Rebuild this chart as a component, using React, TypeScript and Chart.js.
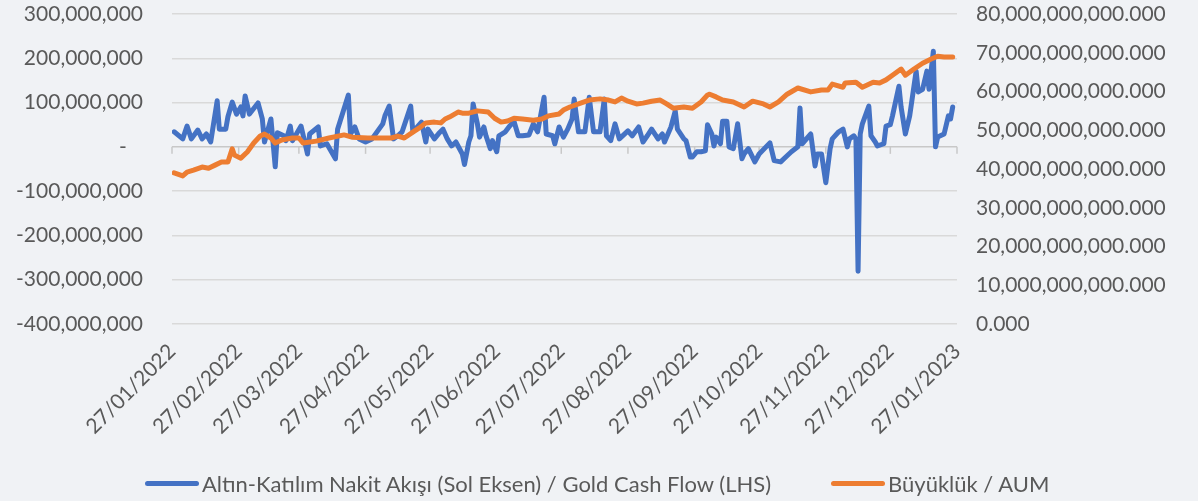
import { useEffect, useRef } from 'react';
import { Chart, registerables } from 'chart.js';

Chart.register(...registerables);

// X-axis tick labels (monthly, dd/mm/yyyy)
const tickLabels = [
  '27/01/2022', '27/02/2022', '27/03/2022', '27/04/2022', '27/05/2022', '27/06/2022',
  '27/07/2022', '27/08/2022', '27/09/2022', '27/10/2022', '27/11/2022', '27/12/2022', '27/01/2023',
];

// Series names and colours
const flowName = 'Altın-Katılım Nakit Akışı (Sol Eksen) / Gold Cash Flow (LHS)';
const aumName = 'Büyüklük / AUM';
const flowColor = '#4472C4';
const aumColor = '#ED7D31';

// Gold cash flow: days since 27/01/2022 and value in millions
const flowDays = [
  1, 5, 7, 9, 12, 14, 16, 18, 21, 22, 25, 26, 28, 30, 32, 33, 34, 36, 40, 42,
  43, 46, 48, 49, 52, 53, 55, 56, 60, 63, 64, 68, 69, 72, 76, 77, 82, 83, 85, 87,
  90, 93, 98, 99, 101, 103, 105, 107, 111, 112, 116, 118, 119, 122, 124, 126, 128, 130, 132, 135,
  136, 138, 139, 140, 142, 143, 145, 146, 148, 149, 151, 152, 155, 157, 159, 161, 163, 166, 168, 170,
  173, 174, 177, 178, 180, 182, 184, 186, 187, 189, 192, 194, 196, 199, 201, 202, 204, 206, 208, 212,
  214, 217, 219, 221, 223, 226, 228, 229, 232, 234, 235, 238, 239, 241, 242, 244, 246, 248, 249, 251,
  252, 253, 255, 256, 258, 259, 261, 263, 265, 266, 268, 271, 273, 278, 280, 283, 286, 288, 291, 292,
  293, 297, 299, 300, 302, 304, 306, 307, 310, 312, 314, 315, 317, 318, 319, 320, 321, 324, 325, 327,
  328, 331, 332, 334, 335, 338, 339, 341, 343, 346, 347, 349, 351, 352, 354, 355, 356, 359, 361, 362,
  363,
];
const flowMillions = [
  34, 18, 47, 18, 38, 18, 29, 11, 104, 40, 40, 68, 101, 74, 90, 70, 115, 74, 99, 63,
  11, 63, -45, 32, 25, 14, 47, 14, 47, -16, 29, 45, 2, 7, -27, 40, 117, 29, 45, 18,
  11, 18, 52, 70, 92, 18, 25, 34, 92, 34, 56, 11, 40, 18, 30, 40, 18, 2, 11, -16,
  -40, 11, 25, 97, 52, 22, 45, 25, -4, 14, -11, 25, 34, 47, 58, 25, 25, 27, 52, 34,
  112, 29, 25, 7, 45, 22, 40, 63, 108, 34, 34, 112, 34, 34, 108, 25, 14, 52, 18, 36,
  25, 45, 11, 25, 40, 18, 29, 11, 45, 81, 40, 18, 14, -23, -23, -11, -11, -9, 50, 29,
  2, 22, 7, 58, 58, 0, -4, 52, -27, -16, -4, -34, -16, 9, -31, -34, -20, -11, 0, 88,
  7, 29, -43, -16, -16, -81, -4, 18, 34, 40, 0, 18, 25, 18, -281, 29, 52, 92, 25, 11,
  2, 7, 47, 50, 70, 137, 90, 29, 70, 171, 124, 130, 171, 130, 216, 0, 22, 29, 70, 63,
  90,
];

// AUM: days since 27/01/2022 and value in billions
const aumDays = [
  1, 5, 7, 10, 14, 17, 20, 23, 26, 28, 29, 32, 35, 38, 41, 43, 46, 48, 51, 56,
  59, 61, 67, 73, 80, 84, 91, 102, 105, 108, 112, 115, 118, 122, 125, 127, 129, 133, 135, 138,
  142, 147, 150, 153, 156, 159, 163, 168, 172, 175, 180, 182, 185, 190, 194, 199, 203, 206, 209, 212,
  216, 219, 223, 227, 230, 233, 238, 242, 246, 249, 250, 253, 256, 261, 266, 270, 275, 278, 282, 286,
  291, 297, 302, 305, 307, 312, 313, 318, 321, 326, 329, 332, 335, 339, 341, 345, 349, 353, 356, 359,
  363,
];
const aumBillions = [
  39.0, 38.2, 39.2, 39.7, 40.5, 40.2, 41.0, 41.8, 41.8, 45.2, 43.6, 42.8, 44.4, 46.7, 48.5, 49.0, 48.0, 46.7, 47.5, 48.0,
  48.0, 46.7, 47.2, 48.0, 48.8, 48.2, 48.0, 48.0, 48.5, 48.0, 49.5, 50.6, 51.9, 52.1, 51.9, 52.9, 53.4, 54.7, 54.4, 54.4,
  55.0, 54.7, 53.1, 52.1, 52.4, 53.1, 52.9, 52.6, 52.9, 53.7, 54.2, 55.2, 56.0, 57.0, 57.8, 58.1, 57.8, 57.3, 58.3, 57.5,
  56.8, 57.0, 57.5, 57.8, 56.8, 55.7, 56.0, 55.7, 57.3, 59.1, 59.3, 58.6, 57.8, 57.3, 56.0, 57.5, 56.8, 56.0, 57.3, 59.3,
  60.9, 59.9, 60.4, 60.4, 61.9, 61.1, 62.2, 62.4, 61.1, 62.4, 62.2, 63.0, 64.2, 65.8, 64.2, 65.8, 67.3, 68.4, 69.1, 68.9,
  68.9,
];

// Axis ranges
const leftMin = -400000000;
const leftMax = 300000000;
const leftStep = 100000000;
const rightMin = 0;
const rightMax = 80000000000;
const rightStep = 10000000000;

const TEXT = '#595959';
const FONT = 'Lato, "Open Sans", sans-serif';

function dayOffset(label: string): number {
  const [d, m, y] = label.split('/').map(Number);
  return Math.round((Date.UTC(y, m - 1, d) - Date.UTC(2022, 0, 27)) / 86400000);
}

const tickDays = tickLabels.map(dayOffset);

const zeroTicksPlugin = {
  id: 'zeroTicks',
  beforeDatasetsDraw(chart: any) {
    const { ctx, scales } = chart;
    const x = scales.x;
    const y = scales.yLeft;
    const y0 = y.getPixelForValue(0);
    ctx.save();
    ctx.strokeStyle = '#C8C8C8';
    ctx.lineWidth = 1.5;
    x.ticks.forEach((t: any) => {
      const px = x.getPixelForValue(t.value);
      ctx.beginPath();
      ctx.moveTo(px, y0);
      ctx.lineTo(px, y0 + 7);
      ctx.stroke();
    });
    ctx.restore();
  },
};

function LegendItem({ color, text }: { color: string; text: string }) {
  return (
    <div style={{ display: 'flex', alignItems: 'center' }}>
      <span
        style={{
          display: 'inline-block',
          width: 54,
          height: 5,
          borderRadius: 3,
          background: color,
          marginRight: 3,
        }}
      />
      <span style={{ whiteSpace: 'nowrap' }}>{text}</span>
    </div>
  );
}

export default function App() {
  const canvasRef = useRef<HTMLCanvasElement | null>(null);

  useEffect(() => {
    document.body.style.margin = '0';
    const canvas = canvasRef.current;
    if (!canvas) return;

    const flowData = flowDays.map((d, i) => ({ x: d, y: flowMillions[i] * 1e6 }));
    const aumData = aumDays.map((d, i) => ({ x: d, y: aumBillions[i] * 1e9 }));

    const chart = new Chart(canvas, {
      type: 'line',
      data: {
        datasets: [
          {
            label: flowName,
            data: flowData,
            borderColor: flowColor,
            backgroundColor: flowColor,
            borderWidth: 5,
            pointRadius: 0,
            tension: 0,
            borderJoinStyle: 'round',
            borderCapStyle: 'round',
            yAxisID: 'yLeft',
            order: 1,
          },
          {
            label: aumName,
            data: aumData,
            borderColor: aumColor,
            backgroundColor: aumColor,
            borderWidth: 5,
            pointRadius: 0,
            tension: 0,
            borderJoinStyle: 'round',
            borderCapStyle: 'round',
            yAxisID: 'yRight',
            order: 0,
          },
        ],
      },
      options: {
        animation: false,
        responsive: false,
        parsing: false as any,
        layout: { padding: { top: 14, left: 0, right: 0, bottom: 41 } },
        plugins: {
          tooltip: { enabled: false },
          legend: { display: false },
        },
        scales: {
          x: {
            type: 'linear',
            min: tickDays[0],
            max: tickDays[tickDays.length - 1],
            grid: { display: false, drawTicks: false },
            border: { display: false },
            afterBuildTicks: (scale: any) => {
              scale.ticks = tickDays.map((v) => ({ value: v }));
            },
            afterFit: (scale: any) => {
              scale.height = 136;
            },
            ticks: {
              autoSkip: false,
              minRotation: 45,
              maxRotation: 45,
              padding: 15,
              color: TEXT,
              font: { family: FONT, size: 21 },
              callback: (_v: any, i: number) => tickLabels[i],
            },
          },
          yLeft: {
            type: 'linear',
            position: 'left',
            min: leftMin,
            max: leftMax,
            grid: {
              color: (c: any) => (c.tick && c.tick.value === 0 ? '#C8C8C8' : '#D9D9D9'),
              lineWidth: 1.5,
              drawTicks: true,
              tickLength: 29,
              tickColor: 'rgba(0,0,0,0)',
            },
            border: { display: false },
            afterFit: (scale: any) => {
              scale.width = 172;
            },
            ticks: {
              stepSize: leftStep,
              padding: 0,
              color: TEXT,
              font: { family: FONT, size: 21 },
              callback: (v: any) => (Number(v) === 0 ? '-   ' : Number(v).toLocaleString('en-US')),
            },
          },
          yRight: {
            type: 'linear',
            position: 'right',
            min: rightMin,
            max: rightMax,
            grid: { display: false, drawTicks: true, tickLength: 19 },
            border: { display: false },
            afterFit: (scale: any) => {
              scale.width = 241;
            },
            ticks: {
              stepSize: rightStep,
              padding: 0,
              color: TEXT,
              font: { family: FONT, size: 21 },
              callback: (v: any) =>
                Number(v).toLocaleString('en-US', { minimumFractionDigits: 3, maximumFractionDigits: 3 }),
            },
          },
        },
      },
      plugins: [zeroTicksPlugin],
    } as any);

    return () => chart.destroy();
  }, []);

  return (
    <div
      style={{
        position: 'fixed',
        left: 0,
        top: 0,
        width: 1198,
        height: 501,
        background: '#F0F2F5',
        overflow: 'hidden',
      }}
    >
      <canvas ref={canvasRef} width={1198} height={501} style={{ display: 'block' }} />
      <div
        style={{
          position: 'absolute',
          left: 145,
          top: 469,
          height: 28,
          display: 'flex',
          alignItems: 'center',
          gap: 60,
          fontFamily: FONT,
          fontSize: 22,
          color: TEXT,
        }}
      >
        <LegendItem color={flowColor} text={flowName} />
        <LegendItem color={aumColor} text={aumName} />
      </div>
    </div>
  );
}
